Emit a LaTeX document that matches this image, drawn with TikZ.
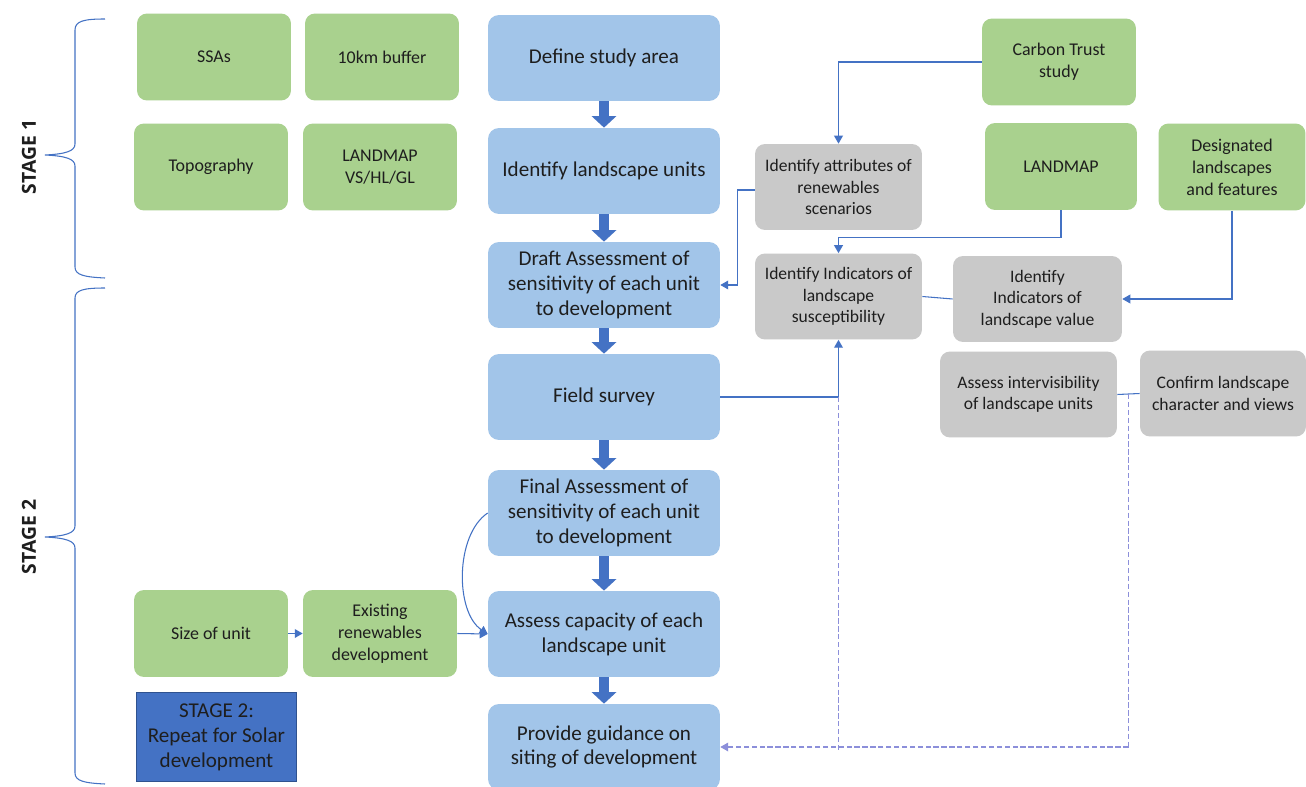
\documentclass[tikz,border=0pt]{standalone}
\usepackage{fontspec}
\setmainfont{Carlito}
\newfontfamily\stagefont{Open Sans}
\usetikzlibrary{arrows.meta,calc}
\definecolor{bluefill}{HTML}{A2C5E9}
\definecolor{greenfill}{HTML}{A9D18E}
\definecolor{greyfill}{HTML}{C9C9C9}
\definecolor{accent}{HTML}{4472C4}
\definecolor{darkacc}{HTML}{2F528F}
\definecolor{dashcol}{HTML}{8C8FDA}
\definecolor{txt}{HTML}{1E1E1E}
\tikzset{
  bluebox/.style={rectangle, rounded corners=0.22cm, fill=bluefill, minimum width=4.64cm, minimum height=1.72cm, align=center, text=txt, font=\fontsize{12}{14.2}\selectfont},
  greenbox/.style={rectangle, rounded corners=0.2cm, fill=greenfill, minimum width=3.08cm, minimum height=1.74cm, align=center, text=txt, font=\fontsize{10.2}{12.5}\selectfont},
  greybox/.style={rectangle, rounded corners=0.2cm, fill=greyfill, minimum width=3.34cm, minimum height=1.72cm, align=center, text=txt, font=\fontsize{10}{12.2}\selectfont},
  bigarrow/.style={draw=accent, line width=6.2pt, -{Triangle[width=13.6pt,length=6.5pt]}},
  thin/.style={draw=accent, line width=0.6pt},
  thinarrow/.style={thin, -{Triangle[width=5pt,length=4.5pt]}},
  dashline/.style={draw=dashcol, line width=0.6pt, dashed, dash pattern=on 3pt off 1.5pt},
  bracestyle/.style={draw=accent, line width=0.6pt},
  stagelabel/.style={font=\stagefont\fontsize{11}{13}\selectfont\bfseries, text=txt, rotate=90}
}
\begin{document}
\begin{tikzpicture}[x=0.02cm, y=-0.02cm]
\useasboundingbox (0,0) rectangle (1306,787);
\fill[white] (0,0) rectangle (1306,787);

% braces
\draw[bracestyle] (105,19) .. controls (84,19) and (75,21) .. (75,30) -- (75,144)
  .. controls (75,151) and (66,154) .. (45,155) .. controls (66,156) and (75,159) .. (75,166)
  -- (75,267) .. controls (75,275) and (84,277) .. (105,278);
\draw[bracestyle] (105,288) .. controls (84,288) and (75,290) .. (75,298) -- (75,526)
  .. controls (75,533) and (66,536) .. (45,537) .. controls (66,538) and (75,541) .. (75,548)
  -- (75,773) .. controls (75,781) and (84,783) .. (105,784);
\node[stagelabel] (s1) at (29,157) {STAGE 1};
\node[stagelabel] (s2) at (29,537) {STAGE 2};

% blue column
\node[bluebox] (define) at (604,58) {Define study area};
\node[bluebox] (identify) at (604,171) {Identify landscape units};
\node[bluebox] (draft) at (604,285) {Draft Assessment of\\sensitivity of each unit\\to development};
\node[bluebox] (field) at (604,397) {Field survey};
\node[bluebox] (final) at (604,513) {Final Assessment of\\sensitivity of each unit\\to development};
\node[bluebox] (capacity) at (604,634) {Assess capacity of each\\landscape unit};
\node[bluebox] (guide) at (604,747) {Provide guidance on\\siting of development};

% green
\node[greenbox] (ssa) at (214,57) {SSAs};
\node[greenbox] (buffer) at (382,57) {10km buffer};
\node[greenbox] (topo) at (211,167) {Topography};
\node[greenbox] (lmvs) at (380,167) {LANDMAP\\VS/HL/GL};
\node[greenbox] (carbon) at (1059,62) {Carbon Trust\\study};
\node[greenbox, minimum width=3.04cm] (landmap) at (1061,166.5) {LANDMAP};
\node[greenbox, minimum width=2.94cm] (desig) at (1232,167) {Designated\\landscapes\\and features};
\node[greenbox] (size) at (211,633.5) {Size of unit};
\node[greenbox] (exist) at (380,633.5) {Existing\\renewables\\development};

% grey
\node[greybox] (attr) at (838.5,187) {Identify attributes of\\renewables\\scenarios};
\node[greybox] (susc) at (838.5,296.5) {Identify Indicators of\\landscape\\susceptibility};
\node[greybox, minimum width=3.38cm] (value) at (1037.5,299) {Identify\\Indicators of\\landscape value};
\node[greybox, minimum width=3.54cm] (interv) at (1028.5,394.5) {Assess intervisibility\\of landscape units};
\node[greybox, minimum width=3.32cm] (confirm) at (1223,393.5) {Confirm landscape\\character and views};

% stage 2 box
\node[rectangle, fill=accent, draw=darkacc, line width=0.8pt, minimum width=3.2cm, minimum height=1.78cm, align=center, text=txt, font=\fontsize{12}{14.2}\selectfont] (solar) at (216.5,737) {STAGE 2:\\Repeat for Solar\\development};

% big arrows
\draw[bigarrow] (define.south) -- (identify.north);
\draw[bigarrow] (identify.south) -- (draft.north);
\draw[bigarrow] (draft.south) -- (field.north);
\draw[bigarrow] (field.south) -- (final.north);
\draw[bigarrow] (final.south) -- (capacity.north);
\draw[bigarrow] (capacity.south) -- (guide.north);

% thin connectors
\draw[thinarrow] (carbon.west) -| (attr.north);
\draw[thinarrow] ($(attr.west)+(0,3)$) -- ++(-17,0) |- (draft.east);
\draw[thinarrow] (landmap.south) -- ++(0,27) -| (susc.north);
\draw[thinarrow] (desig.south) |- (value.east);
\draw[thin] (susc.east) -- (value.west);
\draw[thinarrow] (field.east) -| (susc.south);
\coordinate (jn) at ($(interv.east)!0.5!(confirm.west)$);
\draw[thin] (interv.east) -- (confirm.west);
\coordinate (jb) at (jn |- guide.east);
\draw[dashline] (susc.south |- field.east) -- ($(susc.south |- guide.east)+(0,4)$);
\draw[dashline] (jn) -- (jb);
\draw[dashline, -{Triangle[width=5pt,length=4.5pt]}] (jb) -- (guide.east);
\draw[thinarrow] (final.west) .. controls (455,535) and (455,612) .. (capacity.west);
\draw[thinarrow] (size.east) -- (exist.west);
\draw[thinarrow] (exist.east) -- (capacity.west);
\end{tikzpicture}
\end{document}
